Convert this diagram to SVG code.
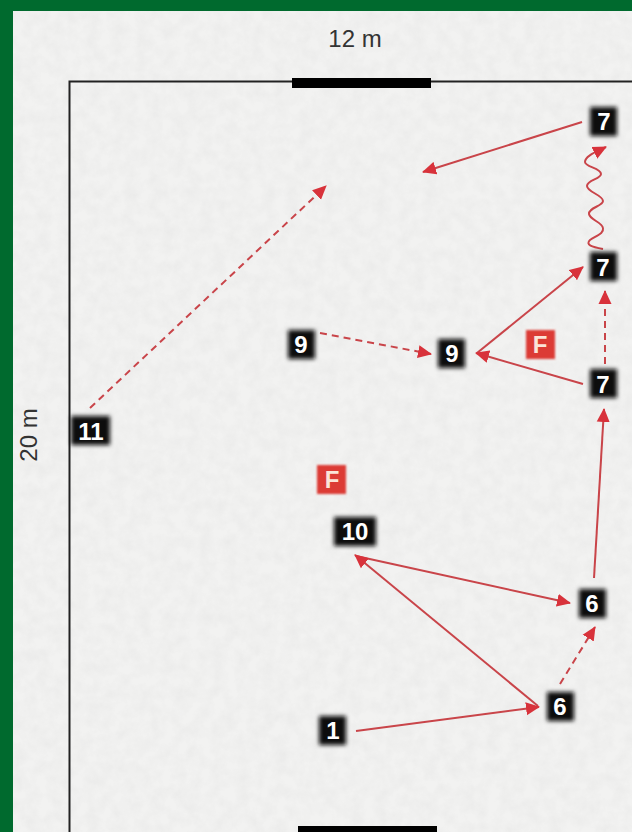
<svg xmlns="http://www.w3.org/2000/svg" width="632" height="832" viewBox="0 0 632 832">
<style>
.b{fill:#08080a;filter:url(#s)}
.f{fill:#dc3a35;filter:url(#r)}
.t{font-family:"Liberation Sans",Arial,sans-serif;font-size:24px;font-weight:700;fill:#fff;text-anchor:middle}
.l{font-family:"Liberation Sans",Arial,sans-serif;font-size:24px;fill:#333;text-anchor:middle}
.c{fill:none;stroke:#c9444a;stroke-width:2;marker-end:url(#a)}
.d{stroke-dasharray:7 5}
</style>
<defs>
<filter id="s" x="-30%" y="-30%" width="160%" height="160%"><feGaussianBlur stdDeviation="2.200"/></filter>
<filter id="r" x="-30%" y="-30%" width="160%" height="160%"><feGaussianBlur stdDeviation="1.200"/></filter>
<filter id="soft" x="-5%" y="-5%" width="110%" height="110%"><feGaussianBlur stdDeviation="0.500"/></filter>
<filter id="n" x="0" y="0" width="100%" height="100%"><feTurbulence type="fractalNoise" baseFrequency="0.08" numOctaves="3" seed="4"/><feColorMatrix values="0 0 0 0 0.55 0 0 0 0 0.55 0 0 0 0 0.55 0 0 0 0.5 -0.16"/></filter>
<marker id="a" markerUnits="userSpaceOnUse" markerWidth="15" markerHeight="14" refX="13" refY="7" orient="auto"><path d="M0 0.500L14 7L0 13.500z" fill="#d8333a"/></marker>
</defs>
<rect width="632" height="832" fill="#006a2e"/>
<rect x="13" y="11" width="619" height="821" fill="#f2f2f1"/>
<rect x="13" y="11" width="619" height="821" filter="url(#n)" opacity="0.5"/>
<g id="field">
<path d="M69.500 832V81.500H632" fill="none" stroke="#222" stroke-width="2"/>
<rect x="292" y="78" width="139" height="10" fill="#000"/>
<rect x="298" y="826" width="139" height="6" fill="#000"/>
<text class="l" x="355" y="47">12 m</text>
<text class="l" transform="translate(37 435) rotate(-90)">20 m</text>
</g>
<g id="connectors" filter="url(#soft)">
<path class="c" d="M582 122L423 172"/>
<path class="c" d="M603 249C592 247 585 245 590 240C598 235 604 233 603 228C602 222 590 220 589 214C588 208 603 206 603 201C603 195 587 192 587 186C587 180 601 179 601 174C601 168 585 167 585 162C585 156 596 152 606 147"/>
<path class="c" d="M477 353L583 267"/>
<path class="c" d="M583 384L476 353"/>
<path class="c d" d="M605 364V291"/>
<path class="c" d="M594 578L604 409"/>
<path class="c" d="M356 556L570 603"/>
<path class="c" d="M538 706L355 555"/>
<path class="c" d="M356 731L539 707"/>
<path class="c d" d="M560 684L595 627"/>
<path class="c d" d="M320 333L431 354"/>
<path class="c d" d="M90 408L326 186"/>
</g>
<g id="n7a"><rect class="b" x="590" y="107" width="27" height="29"/><text class="t" x="604" y="130">7</text></g>
<g id="n7b"><rect class="b" x="590" y="252" width="27" height="29"/><text class="t" x="603" y="276">7</text></g>
<g id="n7c"><rect class="b" x="590" y="369" width="27" height="29"/><text class="t" x="603" y="393">7</text></g>
<g id="n9a"><rect class="b" x="438" y="339" width="27" height="29"/><text class="t" x="452" y="362">9</text></g>
<g id="n9b"><rect class="b" x="288" y="330" width="27" height="29"/><text class="t" x="301" y="353">9</text></g>
<g id="n11"><rect class="b" x="71" y="416" width="39" height="29"/><text class="t" x="91" y="440">11</text></g>
<g id="n10"><rect class="b" x="334" y="517" width="42" height="29"/><text class="t" x="355" y="540">10</text></g>
<g id="n6a"><rect class="b" x="579" y="589" width="27" height="29"/><text class="t" x="592" y="612">6</text></g>
<g id="n6b"><rect class="b" x="547" y="692" width="27" height="29"/><text class="t" x="560" y="715">6</text></g>
<g id="n1"><rect class="b" x="319" y="716" width="27" height="29"/><text class="t" x="333" y="739">1</text></g>
<g id="f1"><rect class="f" x="526" y="330" width="29" height="29"/><text class="t" x="540" y="353" style="fill:#fbe4d8">F</text></g>
<g id="f2"><rect class="f" x="317" y="465" width="29" height="29"/><text class="t" x="332" y="488" style="fill:#fbe4d8">F</text></g>
</svg>
